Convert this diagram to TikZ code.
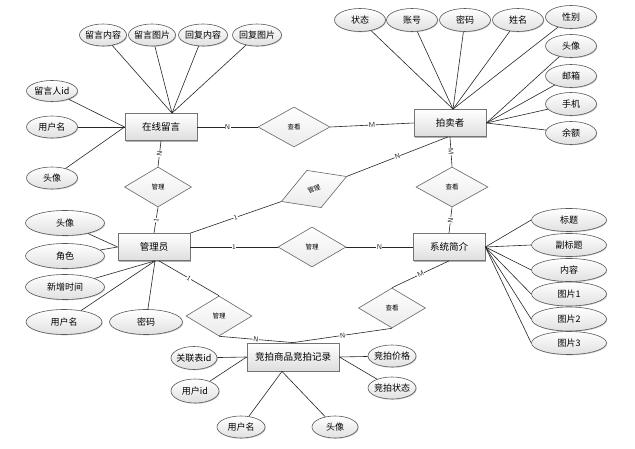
\documentclass[tikz,border=0pt]{standalone}
\usepackage{fontspec}
\newfontfamily\cjk{Noto Sans CJK SC}
\usetikzlibrary{shapes.geometric,shadows}
\newcommand\zw[1]{\makebox[0pt]{#1}}
\tikzset{
  ent/.style={draw=black!55, line width=0.8pt, top color=white, bottom color=black!13,
    minimum width=72pt, minimum height=27pt, inner sep=0pt,
    font=\cjk\fontsize{9.5}{10}\selectfont,
    drop shadow={shadow xshift=1.2pt, shadow yshift=-1.2pt, opacity=0.3, fill=black}},
  attr/.style={ellipse, draw=black!65, line width=0.6pt, top color=white, bottom color=black!12,
    inner sep=0pt, minimum width=51pt, minimum height=22pt,
    font=\cjk\fontsize{9}{10}\selectfont,
    drop shadow={shadow xshift=0.8pt, shadow yshift=-0.8pt, opacity=0.2, fill=black}},
  rel/.style={diamond, draw=black!60, line width=0.6pt, top color=white, bottom color=black!8,
    inner sep=0pt, minimum width=70pt, minimum height=40pt,
    font=\cjk\fontsize{6.5}{7}\selectfont},
  card/.style={font=\sffamily\fontsize{7}{8}\selectfont, fill=white, inner sep=0.4pt, sloped},
  ln/.style={black!85, line width=0.6pt},
}
\begin{document}
\begin{tikzpicture}[x=1pt, y=-1pt]
\fill[white] (0,0) rectangle (635,449);
\useasboundingbox (0,0) rectangle (635,449);

% ---------- connectors first (drawn under nodes) ----------
% entities
\node[ent] (msg) at (161,127) {在线留言};
\node[ent] (auc) at (450,123) {拍卖者};
\node[ent] (adm) at (154,247) {管理员};
\node[ent] (sys) at (449,247) {系统简介};
\node[ent, minimum width=92pt, minimum height=28pt] (rec) at (293,357) {竞拍商品竞拍记录};

% relations
\node[rel, minimum width=72pt] (r1) at (294,127) {查看};
\node[rel, minimum width=67pt] (r2) at (158,187) {管理};
\node[rel, rotate=21] (r3) at (314,189) {管理};
\node[rel, minimum width=72pt] (r4) at (452,187) {查看};
\node[rel, minimum width=68pt] (r5) at (312,247) {管理};
\node[rel, minimum width=66pt] (r6) at (219,316) {管理};
\node[rel, minimum width=67pt] (r7) at (392,308) {查看};

% attributes of 在线留言
\node[attr, minimum width=47pt] (a1) at (103,35) {\zw{留言内容}};
\node[attr, minimum width=47pt] (a2) at (152,35) {\zw{留言图片}};
\node[attr, minimum width=49pt] (a3) at (203,35) {\zw{回复内容}};
\node[attr, minimum width=49pt] (a4) at (257,35) {\zw{回复图片}};
\node[attr, minimum height=21pt] (a5) at (52,91) {\zw{留言人id}};
\node[attr] (a6) at (52,127) {\zw{用户名}};
\node[attr] (a7) at (52,178) {\zw{头像}};

% attributes of 拍卖者
\node[attr, minimum height=23pt] (b1) at (360,20) {\zw{状态}};
\node[attr, minimum height=23pt] (b2) at (412,20) {\zw{账号}};
\node[attr, minimum height=23pt] (b3) at (465,20) {\zw{密码}};
\node[attr, minimum height=23pt] (b4) at (518,20) {\zw{姓名}};
\node[attr, minimum height=23pt] (b5) at (571,17) {\zw{性别}};
\node[attr, minimum height=23pt] (b6) at (571,46) {\zw{头像}};
\node[attr, minimum height=23pt] (b7) at (571,76) {\zw{邮箱}};
\node[attr, minimum height=23pt] (b8) at (571,104) {\zw{手机}};
\node[attr, minimum height=23pt] (b9) at (571,133) {\zw{余额}};

% attributes of 管理员
\node[attr, minimum width=79pt, minimum height=25pt] (c1) at (65,223) {\zw{头像}};
\node[attr, minimum width=79pt, minimum height=25pt] (c2) at (65,256) {\zw{角色}};
\node[attr, minimum width=79pt, minimum height=25pt] (c3) at (65,287) {\zw{新增时间}};
\node[attr, minimum width=76pt, minimum height=25pt] (c4) at (64,322) {\zw{用户名}};
\node[attr, minimum width=73pt, minimum height=25pt] (c5) at (146,322) {\zw{密码}};

% attributes of 系统简介
\node[attr, minimum width=75pt, minimum height=23pt] (d1) at (569,220) {\zw{标题}};
\node[attr, minimum width=75pt, minimum height=23pt] (d2) at (569,245) {\zw{副标题}};
\node[attr, minimum width=75pt, minimum height=23pt] (d3) at (569,270) {\zw{内容}};
\node[attr, minimum width=75pt, minimum height=24pt] (d4) at (569,294) {\zw{图片1}};
\node[attr, minimum width=75pt, minimum height=24pt] (d5) at (569,319) {\zw{图片2}};
\node[attr, minimum width=75pt, minimum height=23pt] (d6) at (569,343) {\zw{图片3}};

% attributes of 竞拍记录
\node[attr, minimum width=46pt, minimum height=23pt] (e1) at (194,358) {\zw{关联表id}};
\node[attr, minimum width=48pt, minimum height=24pt] (e2) at (195,391) {\zw{用户id}};
\node[attr, minimum width=48pt] (e3) at (241,427) {\zw{用户名}};
\node[attr, minimum width=46pt] (e4) at (335,427) {\zw{头像}};
\node[attr, minimum width=48pt] (e5) at (392,356) {\zw{竞拍价格}};
\node[attr, minimum width=48pt] (e6) at (392,388) {\zw{竞拍状态}};

% convergence points
\coordinate (msgT) at ([xshift=11pt]msg.north);
\coordinate (aucT) at ([xshift=3pt]auc.north);
\coordinate (admB) at ([xshift=1pt]adm.south);
\coordinate (admB2) at ([xshift=5pt]adm.south);
\coordinate (aucB) at ([xshift=-2pt]auc.south);
\coordinate (recB) at ([xshift=-11pt]rec.south);

% attribute lines
\foreach \n in {a1,a2,a3,a4} \draw[ln] (\n) -- (msgT);
\foreach \n in {a5,a6,a7} \draw[ln] (\n) -- (msg.west);
\foreach \n in {b1,b2,b3,b4,b5} \draw[ln] (\n) -- (aucT);
\foreach \n in {b6,b7,b8,b9} \draw[ln] (\n) -- (auc.east);
\foreach \n in {c1,c2} \draw[ln] (\n) -- (adm.west);
\foreach \n in {c3,c4,c5} \draw[ln] (\n) -- (admB);
\foreach \n in {d1,d2,d3,d4,d5,d6} \draw[ln] (sys.east) -- (\n.west);
\foreach \n in {e1,e2} \draw[ln] (\n) -- (rec.west);
\foreach \n in {e3,e4} \draw[ln] (\n) -- (recB);
\foreach \n in {e5,e6} \draw[ln] (\n) -- (rec.east);

% relation lines with cardinalities
\draw[ln] (msg.east) -- node[card]{N} (r1.west);
\draw[ln] (r1.east) -- node[card]{M} (auc.west);
\draw[ln] (msg.south) -- node[card]{N} (r2.north);
\draw[ln] (r2.south) -- node[card]{1} (adm.north);
\draw[ln] (adm.north east) -- node[card]{1} (r3.west);
\draw[ln] (r3.east) -- node[card]{N} (aucB);
\draw[ln] (auc.south) -- node[card]{M} (r4.north);
\draw[ln] (r4.south) -- node[card]{N} (sys.north);
\draw[ln] (adm.east) -- node[card]{1} (r5.west);
\draw[ln] (r5.east) -- node[card]{N} (sys.west);
\draw[ln] (admB2) -- node[card]{1} (r6.north);
\draw[ln] (r6.south) -- node[card]{N} (rec.north);
\draw[ln] (sys.south) -- node[card]{M} (r7.north);
\draw[ln] (r7.south) -- node[card]{N} (rec.north);
\end{tikzpicture}
\end{document}
